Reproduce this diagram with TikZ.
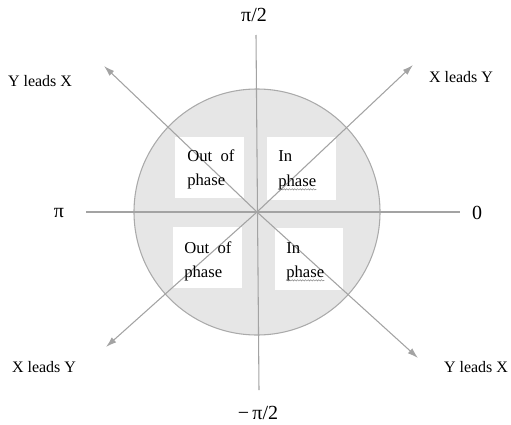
\documentclass[tikz,border=0pt]{standalone}
\usepackage{fontspec}
\setmainfont{Liberation Serif}
\usetikzlibrary{arrows.meta,decorations.pathmorphing}
\definecolor{axisgray}{HTML}{A3A3A3}
\definecolor{discfill}{HTML}{E6E6E6}
\definecolor{rimgray}{HTML}{AAAAAA}
\begin{document}
\begin{tikzpicture}[x=0.75pt,y=-0.75pt,
  axis/.style={draw=axisgray, line width=0.8pt},
  arr/.style={axis, -{Latex[length=8pt,width=5pt]}},
  qbox/.style={fill=white, draw=none, inner sep=0pt},
  lbl/.style={font=\fontsize{12}{14}\selectfont, inner sep=0pt},
  ptxt/.style={font=\fontsize{12.5}{15}\selectfont, anchor=base west, inner sep=0pt},
  pilbl/.style={font=\fontsize{15}{17}\selectfont, inner sep=0pt},
  squig/.style={draw=gray, line width=0.35pt, decorate, decoration={snake, amplitude=0.5pt, segment length=2pt}}]
\useasboundingbox (0,0) rectangle (511,425);
% disc
\node[circle, draw=rimgray, fill=discfill, line width=0.8pt, minimum size=184.5pt, inner sep=0pt] (disc) at (257,212) {};
% white boxes
\node[qbox, minimum width=51.75pt, minimum height=45.75pt] (bul) at (209.5,167.5) {};
\node[qbox, minimum width=51.75pt, minimum height=47.25pt] (bur) at (301.5,168.5) {};
\node[qbox, minimum width=51.75pt, minimum height=45.75pt] (bll) at (207.5,257.5) {};
\node[qbox, minimum width=51pt, minimum height=46.5pt] (blr) at (309,259) {};
% coordinates
\coordinate (O) at (257,212);
\coordinate (vtop) at (256,35);
\coordinate (vbot) at (259,390);
\coordinate (hl) at (86,212);
\coordinate (hr) at (460,212);
\coordinate (tul) at (104,66);
\coordinate (tur) at (413,65);
\coordinate (tll) at (106,347);
\coordinate (tlr) at (418,358);
% axes
\draw[axis] (vtop) -- (vbot);
\draw[axis] (hl) -- (hr);
\draw[arr] (O) -- (tul);
\draw[arr] (O) -- (tur);
\draw[arr] (O) -- (tll);
\draw[arr] (O) -- (tlr);
% box texts
\node[ptxt] (ul1) at (187,161) {Out~~of};
\node[ptxt] (ul2) at (187,185) {phase};
\node[ptxt] (ur1) at (278,161) {In};
\node[ptxt] (ur2) at (278,186) {phase};
\node[ptxt] (ll1) at (184,253) {Out~~of};
\node[ptxt] (ll2) at (184,277) {phase};
\node[ptxt] (lr1) at (286,253) {In};
\node[ptxt] (lr2) at (286,277) {phase};
\draw[squig] ([yshift=-2.5pt]ur2.base west) -- ([yshift=-2.5pt]ur2.base east);
\draw[squig] ([yshift=-2.5pt]lr2.base west) -- ([yshift=-2.5pt]lr2.base east);
% axis labels
\node[pilbl] (pihalf) at (254,15) {π/2};
\node[pilbl] (mpihalf) at (258,413) {−\,π/2};
\node[pilbl] (pi) at (59,213) {π};
\node[pilbl] (zero) at (477,213) {0};
% diagonal labels
\node[lbl] (lul) at (40,81) {Y leads X};
\node[lbl] (lur) at (461,77) {X leads Y};
\node[lbl] (lll) at (44,367) {X leads Y};
\node[lbl] (llr) at (476,367) {Y leads X};
\end{tikzpicture}
\end{document}
